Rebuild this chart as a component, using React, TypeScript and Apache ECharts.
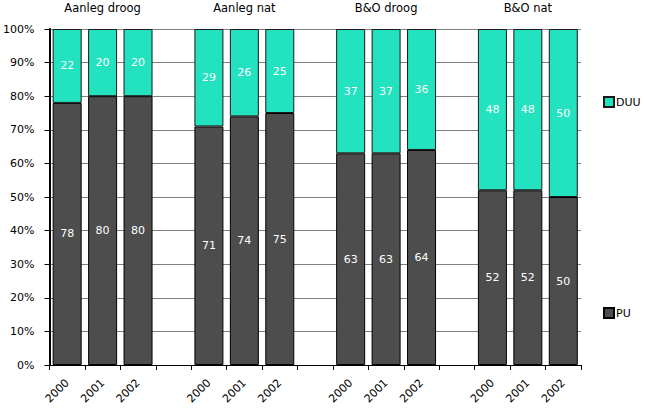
import React, { useEffect, useRef } from "react";
import * as echarts from "echarts";

const years = ["2000", "2001", "2002", "", "2000", "2001", "2002", "", "2000", "2001", "2002", "", "2000", "2001", "2002"];
const groupLabels = ["", "Aanleg droog", "", "", "", "Aanleg nat", "", "", "", "B&O droog", "", "", "", "B&O nat", ""];
const puValues: (number | string)[] = [78, 80, 80, "-", 71, 74, 75, "-", 63, 63, 64, "-", 52, 52, 50];
const duuValues: (number | string)[] = [22, 20, 20, "-", 29, 26, 25, "-", 37, 37, 36, "-", 48, 48, 50];
const yTicks = [0, 10, 20, 30, 40, 50, 60, 70, 80, 90, 100];

const FONT = "DejaVu Sans";

export default function App() {
  const ref = useRef<HTMLDivElement>(null);
  useEffect(() => {
    if (!ref.current) return;
    const chart = echarts.init(ref.current, null, { renderer: "svg" });
    const labelStyle = {
      show: true,
      position: "inside",
      color: "#ffffff",
      fontFamily: FONT,
      fontSize: 11,
      formatter: (p: any) => String(p.value),
    };
    const legendBase = {
      orient: "vertical",
      icon: "rect",
      itemWidth: 10,
      itemHeight: 10,
      itemGap: 4,
      padding: 0,
      textStyle: { fontFamily: FONT, fontSize: 11, color: "#000", padding: [0, 0, 0, -3] },
    };
    chart.setOption({
      animation: false,
      backgroundColor: "#ffffff",
      textStyle: { fontFamily: FONT },
      grid: { left: 45, right: 65, top: 29, bottom: 44, containLabel: false },
      legend: [
        { ...legendBase, data: ["DUU"], left: 603, top: 96 },
        { ...legendBase, data: ["PU"], left: 603, top: 307 },
      ],
      xAxis: [
        {
          type: "category",
          data: years,
          boundaryGap: true,
          axisLine: { show: true, lineStyle: { color: "#000", width: 1 } },
          axisTick: { show: true, length: 5, alignWithLabel: false, interval: 0, lineStyle: { color: "#000" } },
          axisLabel: {
            interval: 0,
            rotate: 45,
            color: "#000",
            fontFamily: FONT,
            fontSize: 11,
            margin: 16,
          },
          splitLine: { show: false },
        },
        {
          type: "category",
          data: groupLabels,
          position: "top",
          boundaryGap: true,
          axisLine: { show: false },
          axisTick: { show: false },
          axisLabel: {
            interval: 0,
            color: "#000",
            fontFamily: FONT,
            fontSize: 11.5,
            margin: 15,
          },
        },
      ],
      yAxis: {
        type: "value",
        min: 0,
        max: 100,
        interval: 10,
        axisLine: { show: true, lineStyle: { color: "#000", width: 2 } },
        axisTick: { show: true, length: 5, lineStyle: { color: "#000" } },
        axisLabel: {
          color: "#000",
          fontFamily: FONT,
          fontSize: 11,
          margin: 15,
          formatter: (v: number) => (yTicks.includes(v) ? v + "%" : ""),
        },
        splitLine: { show: true, lineStyle: { color: "#808080", width: 1 } },
      },
      series: [
        {
          name: "PU",
          type: "bar",
          stack: "total",
          data: puValues,
          barWidth: 29,
          itemStyle: { color: "#4d4d4d", borderColor: "#000", borderWidth: 1 },
          label: labelStyle,
        },
        {
          name: "DUU",
          type: "bar",
          stack: "total",
          data: duuValues,
          barWidth: 29,
          itemStyle: { color: "#22e2c0", borderColor: "#1a1a1a", borderWidth: 1 },
          label: labelStyle,
        },
      ],
    });
    return () => chart.dispose();
  }, []);
  return <div ref={ref} style={{ width: 646, height: 409, position: "absolute", left: 0, top: 0 }} />;
}
